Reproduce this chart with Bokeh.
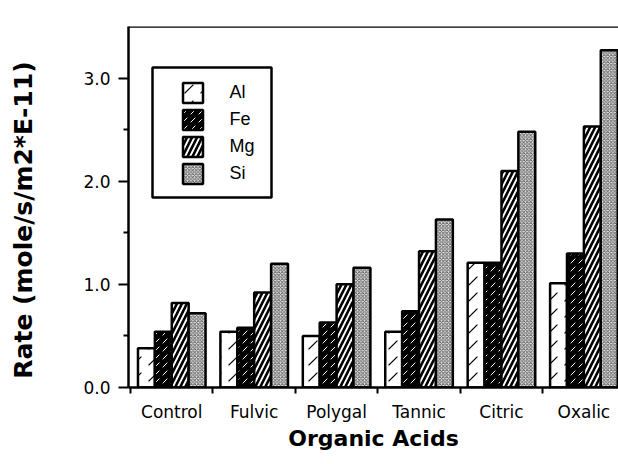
from bokeh.plotting import figure
from bokeh.models import (ColumnDataSource, Range1d, FixedTicker, Legend, LegendItem,
                          Span, BoxAnnotation, NumeralTickFormatter)
from bokeh.embed import file_html
from bokeh.resources import INLINE

acids = ["Control", "Fulvic", "Polygal", "Tannic", "Citric", "Oxalic"]
elements = ["Al", "Fe", "Mg", "Si"]
al = [0.38, 0.54, 0.50, 0.54, 1.21, 1.01]
fe = [0.54, 0.58, 0.63, 0.74, 1.21, 1.30]
mg = [0.82, 0.92, 1.00, 1.32, 2.10, 2.53]
si = [0.72, 1.20, 1.16, 1.63, 2.48, 3.27]
y_ticks = [0.0, 1.0, 2.0, 3.0]
y_minor = [0.5, 1.5, 2.5]

series = [al, fe, mg, si]
styles = [
    dict(fill_color="white", hatch_pattern="right_diagonal_dash", hatch_color="black",
         hatch_scale=16, hatch_weight=1.2),
    dict(fill_color="black", hatch_pattern="right_diagonal_dash", hatch_color="white",
         hatch_scale=8, hatch_weight=1.0),
    dict(fill_color="white", hatch_pattern="right_diagonal_line", hatch_color="black",
         hatch_scale=10, hatch_weight=2.6),
    dict(fill_color="#e6e6e6", hatch_pattern="diagonal_cross", hatch_color="#555555",
         hatch_scale=3.5, hatch_weight=0.9),
]

n = len(acids)
bw = 0.205
offsets = [-1.5 * bw, -0.5 * bw, 0.5 * bw, 1.5 * bw]

p = figure(width=618, height=464, output_backend="svg", toolbar_location=None,
           x_range=Range1d(-0.025, 5.92), y_range=Range1d(0, 3.5),
           min_border_left=128, min_border_right=0, min_border_top=26, min_border_bottom=77)
p.outline_line_color = None
p.grid.visible = False
p.background_fill_color = "white"

items = []
for name, vals, off, st in zip(elements, series, offsets, styles):
    src = ColumnDataSource(dict(x=[i + 0.5 + off for i in range(n)], top=vals))
    r = p.vbar(x="x", top="top", bottom=0, width=bw, source=src,
               line_color="black", line_width=2.5, **st)
    items.append(LegendItem(label=name, renderers=[r]))

legend = Legend(items=items, location=(51.5, 201.5), padding=0, margin=0, spacing=2,
                glyph_width=25, glyph_height=25, label_standoff=25,
                label_text_font="Liberation Sans", label_text_font_size="18px",
                label_text_color="black", border_line_color=None,
                background_fill_alpha=0)
p.add_layout(legend, "center")
p.add_layout(BoxAnnotation(left=152, right=271, top=67, bottom=197,
                           left_units="canvas", right_units="canvas",
                           top_units="canvas", bottom_units="canvas",
                           fill_alpha=0, line_color="black", line_alpha=1.0,
                           line_width=2.5))

p.add_layout(Span(location=3.5, dimension="width", line_color="black", line_width=2.5))

# x axis
xa = p.xaxis[0]
xa.ticker = FixedTicker(ticks=[i + 0.5 for i in range(n)], minor_ticks=list(range(n + 1)))
xa.major_label_overrides = {i + 0.5: acids[i] for i in range(n)}
xa.major_tick_line_color = None
xa.minor_tick_in = 0
xa.minor_tick_out = 6
xa.minor_tick_line_width = 2
xa.axis_line_width = 2.5
xa.major_label_standoff = 8
xa.major_label_text_font = "DejaVu Sans"
xa.major_label_text_font_size = "17px"
xa.major_label_text_color = "black"
xa.axis_label = "Organic Acids"
xa.axis_label_text_font = "DejaVu Sans"
xa.axis_label_text_font_style = "bold"
xa.axis_label_text_font_size = "22px"
xa.axis_label_text_color = "black"
xa.axis_label_standoff = 1

# y axis
ya = p.yaxis[0]
ya.ticker = FixedTicker(ticks=y_ticks, minor_ticks=y_minor)
ya.formatter = NumeralTickFormatter(format="0.0")
ya.major_tick_in = 0
ya.major_tick_out = 10
ya.major_tick_line_width = 2
ya.minor_tick_in = 0
ya.minor_tick_out = 5
ya.minor_tick_line_width = 2
ya.axis_line_width = 2.5
ya.major_label_standoff = 8
ya.major_label_text_font = "DejaVu Sans"
ya.major_label_text_font_size = "17px"
ya.major_label_text_color = "black"
ya.axis_label = "Rate    (mole/s/m2*E-11)"
ya.axis_label_text_font = "DejaVu Sans"
ya.axis_label_text_font_style = "bold"
ya.axis_label_text_font_size = "25px"
ya.axis_label_text_color = "black"
ya.axis_label_standoff = 42

open("out.html", "w").write(file_html(p, INLINE))
